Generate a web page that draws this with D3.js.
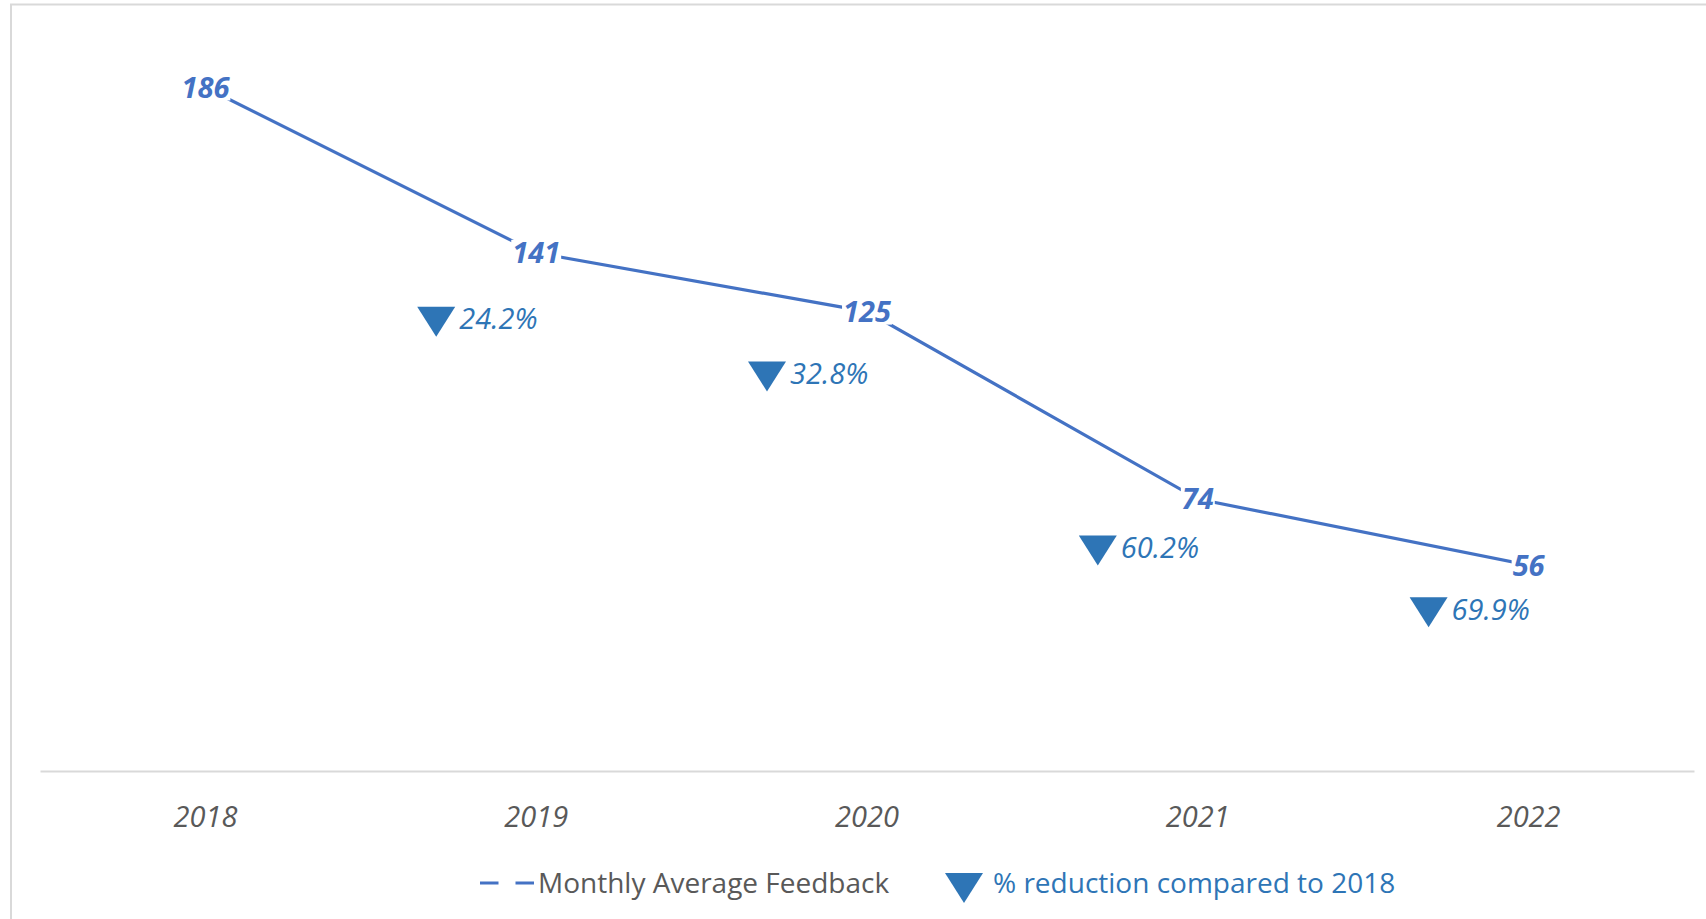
<!DOCTYPE html>
<html>
<head>
<meta charset="utf-8">
<script src="https://cdn.jsdelivr.net/npm/d3@7"></script>
<style>
  body { margin: 0; background: #fff; }
  text { font-family: "Open Sans", sans-serif; }
</style>
</head>
<body>
<div id="chart"></div>
<script>
const years = ['2018', '2019', '2020', '2021', '2022'];
const feedback = [186, 141, 125, 74, 56];
const reductionYears = ['2019', '2020', '2021', '2022'];
const reduction = [24.2, 32.8, 60.2, 69.9];

const W = 1706, H = 919;
const lineColor = '#4472C4';
const markColor = '#2E75B6';

const svg = d3.select('#chart')
    .append('svg')
    .attr('width', W)
    .attr('height', H);

// chart frame
svg.append('rect')
    .attr('x', 11).attr('y', 4.5)
    .attr('width', W + 20).attr('height', H + 20)
    .attr('fill', 'none')
    .attr('stroke', '#d9d9d9')
    .attr('stroke-width', 2);

const x = d3.scaleBand()
    .domain(years)
    .range([40, 1694]);

const y = d3.scaleLinear()
    .domain([0, 200])
    .range([771, 36]);

// secondary placement for the reduction markers
const y2 = d3.scaleLinear()
    .domain([0, 100])
    .range([167.9, 803.6]);

const cx = d => x(d) + x.bandwidth() / 2;

// category axis
const xAxis = svg.append('g')
    .attr('transform', 'translate(0,771)')
    .call(d3.axisBottom(x).tickSize(0).tickPadding(0));
xAxis.select('.domain')
    .attr('stroke', '#d9d9d9')
    .attr('stroke-width', 2);
xAxis.selectAll('text')
    .attr('y', 56)
    .attr('dy', null)
    .style('font-family', '"Open Sans", sans-serif')
    .style('font-size', '29px')
    .style('font-style', 'italic')
    .attr('fill', '#595959');

// main line
const line = d3.line()
    .x((d, i) => cx(years[i]))
    .y(d => y(d));

svg.append('path')
    .datum(feedback)
    .attr('d', line)
    .attr('fill', 'none')
    .attr('stroke', lineColor)
    .attr('stroke-width', 3.2);

// value labels with white boxes that break the line
const labels = svg.append('g')
    .selectAll('g')
    .data(feedback)
    .enter().append('g')
    .attr('transform', (d, i) => `translate(${cx(years[i])},${y(d)})`);

labels.append('rect')
    .attr('fill', '#fff');

labels.append('text')
    .attr('text-anchor', 'middle')
    .attr('y', 10.3)
    .style('font-size', '29px')
    .style('font-weight', 'bold')
    .style('font-style', 'italic')
    .attr('fill', lineColor)
    .text(d => d);

labels.each(function() {
    const g = d3.select(this);
    const w = g.select('text').node().getComputedTextLength();
    g.select('rect')
        .attr('x', -w / 2 - 1)
        .attr('y', -13)
        .attr('width', w + 2)
        .attr('height', 26);
});

// reduction markers
const tri = 'M-19,-15L19,-15L0,15Z';
const red = svg.append('g')
    .selectAll('g')
    .data(reduction)
    .enter().append('g')
    .attr('transform', (d, i) => `translate(${cx(reductionYears[i]) - 100},${y2(d)})`);

red.append('path')
    .attr('d', tri)
    .attr('fill', markColor);

red.append('text')
    .attr('x', 23)
    .attr('y', 7.5)
    .style('font-size', '29px')
    .style('font-style', 'italic')
    .attr('fill', markColor)
    .text(d => d.toFixed(1) + '%');

// legend
const legend = svg.append('g');
legend.append('line')
    .attr('x1', 480).attr('x2', 534)
    .attr('y1', 883).attr('y2', 883)
    .attr('stroke', lineColor)
    .attr('stroke-width', 3.2)
    .attr('stroke-dasharray', '18.5,17');
legend.append('text')
    .attr('x', 538)
    .attr('y', 893)
    .style('font-size', '28px')
    .attr('fill', '#595959')
    .text('Monthly Average Feedback');
legend.append('path')
    .attr('d', tri)
    .attr('transform', 'translate(964,888)')
    .attr('fill', markColor);
legend.append('text')
    .attr('x', 993)
    .attr('y', 893)
    .style('font-size', '28px')
    .attr('fill', markColor)
    .text('% reduction compared to 2018');
</script>
</body>
</html>
